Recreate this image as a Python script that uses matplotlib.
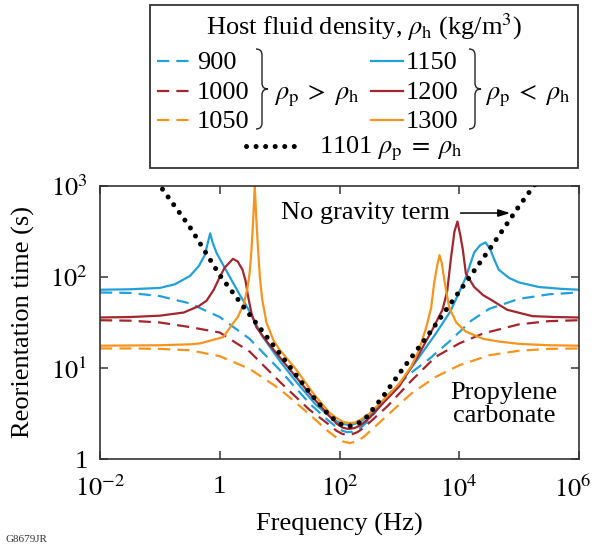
import numpy as np
import matplotlib.pyplot as plt
import matplotlib.transforms as mtransforms
from matplotlib.path import Path
from matplotlib.patches import PathPatch, Rectangle
from matplotlib.lines import Line2D

plt.rcParams['font.family'] = ['Liberation Serif', 'DejaVu Serif']
plt.rcParams['mathtext.fontset'] = 'stix'

# values as log10(frequency/Hz) and log10(time/s)
logf_900 = [-2, -1.5, -1, -0.5, 0, 0.5, 1.0, 1.5, 1.8, 1.95, 2.05, 2.13, 2.22, 2.35, 2.5, 2.8, 3.2, 3.5, 3.85, 4.2, 4.5, 5.0, 5.5, 6]
logt_900 = [1.83, 1.825, 1.79, 1.71, 1.56, 1.32, 0.98, 0.61, 0.43, 0.35, 0.31, 0.295, 0.30, 0.34, 0.43, 0.70, 0.95, 1.10, 1.30, 1.52, 1.65, 1.76, 1.81, 1.83]

logf_1000 = [-2, -1.5, -1, -0.5, 0, 0.5, 1.0, 1.5, 1.8, 1.95, 2.05, 2.12, 2.2, 2.3, 2.4, 2.5, 2.8, 3.2, 3.6, 4.0, 4.4, 5.0, 5.5, 6]
logt_1000 = [1.525, 1.52, 1.50, 1.45, 1.39, 1.18, 0.85, 0.54, 0.39, 0.31, 0.275, 0.265, 0.27, 0.295, 0.34, 0.40, 0.58, 0.86, 1.12, 1.27, 1.38, 1.48, 1.515, 1.525]

logf_1050 = [-2, -1.5, -1, -0.5, 0, 0.5, 1.0, 1.5, 1.8, 1.95, 2.07, 2.17, 2.27, 2.4, 2.55, 2.8, 3.2, 3.6, 4.0, 4.5, 5.0, 5.5, 6]
logt_1050 = [1.215, 1.215, 1.21, 1.195, 1.13, 0.99, 0.77, 0.49, 0.31, 0.235, 0.19, 0.175, 0.19, 0.24, 0.33, 0.48, 0.72, 0.90, 1.03, 1.14, 1.19, 1.21, 1.215]

logf_1101 = [-1.05, -0.5, 0, 0.4, 1.0, 1.5, 1.8, 1.92, 2.0, 2.08, 2.15, 2.23, 2.33, 2.45, 2.72, 3.0, 3.5, 4.0, 4.5, 5.0, 5.3]
logt_1101 = [3.05, 2.55, 2.02, 1.67, 1.16, 0.73, 0.50, 0.43, 0.39, 0.365, 0.36, 0.37, 0.40, 0.46, 0.68, 0.94, 1.38, 1.84, 2.30, 2.78, 3.05]

logf_1150 = [-2, -1.5, -1, -0.75, -0.5, -0.35, -0.25, -0.19, -0.16, -0.12, -0.05, 0.1, 0.33, 0.5, 0.7, 1.0, 1.3, 1.6, 1.85, 1.95, 2.05,
             2.15, 2.25, 2.35, 2.5, 2.75, 3.0, 3.33, 3.6, 3.85, 4.1, 4.25, 4.35, 4.44, 4.52, 4.58, 4.66, 4.83, 5.0, 5.33, 5.7, 6]
logt_1150 = [1.86, 1.865, 1.88, 1.92, 2.01, 2.12, 2.24, 2.40, 2.48, 2.38, 2.26, 2.08, 1.81, 1.62, 1.36, 1.08, 0.83, 0.60, 0.46, 0.415, 0.385,
             0.375, 0.385, 0.41, 0.48, 0.65, 0.82, 1.12, 1.37, 1.62, 1.98, 2.27, 2.35, 2.38, 2.30, 2.20, 2.08, 1.99, 1.94, 1.89, 1.87, 1.86]

logf_1200 = [-2, -1.5, -1, -0.6, -0.35, -0.22, -0.1, 0.0, 0.08, 0.22, 0.3, 0.38, 0.43, 0.47, 0.53, 0.61, 0.8, 1.0, 1.55, 1.85, 1.95, 2.05,
             2.15, 2.25, 2.35, 2.5, 2.75, 3.0, 3.3, 3.55, 3.72, 3.8, 3.86, 3.92, 3.97, 4.02, 4.06, 4.11, 4.25, 4.4, 4.53, 4.8, 5.22, 5.6, 6]
logt_1200 = [1.555, 1.56, 1.575, 1.61, 1.68, 1.74, 1.86, 2.0, 2.1, 2.2, 2.17, 2.08, 1.96, 1.80, 1.60, 1.45, 1.28, 1.12, 0.68, 0.46, 0.39, 0.345,
             0.33, 0.34, 0.37, 0.45, 0.63, 0.80, 1.12, 1.42, 1.64, 1.85, 2.2, 2.5, 2.61, 2.45, 2.30, 2.04, 1.89, 1.80, 1.75, 1.64, 1.57, 1.56, 1.555]

logf_1300 = [-2, -1, -0.5, -0.33, 0.06, 0.22, 0.30, 0.40, 0.46, 0.50, 0.53, 0.56, 0.585, 0.61, 0.64, 0.67, 0.71, 0.78, 0.9, 1.0, 1.28, 1.55,
             1.83, 1.95, 2.05, 2.15, 2.25, 2.35, 2.5, 2.75, 3.0, 3.2, 3.33, 3.45, 3.53, 3.58, 3.63, 3.67, 3.71, 3.75, 3.83, 3.95, 4.11, 4.4,
             4.67, 5.0, 5.5, 6]
logt_1300 = [1.245, 1.25, 1.26, 1.27, 1.34, 1.49, 1.56, 1.70, 1.87, 2.05, 2.30, 2.65, 3.0, 2.65, 2.30, 2.0, 1.75, 1.50, 1.30, 1.2, 0.98, 0.73,
             0.51, 0.45, 0.41, 0.395, 0.40, 0.43, 0.50, 0.66, 0.83, 1.02, 1.20, 1.45, 1.66, 1.93, 2.12, 2.24, 2.15, 1.97, 1.67, 1.50, 1.40, 1.32,
             1.29, 1.265, 1.25, 1.245]

blue = '#22A0DA'
red = '#A3262E'
orange = '#F7941D'
dash = (0, (5.5, 3.2))
dots = (0, (0.01, 1.9))

series = [
    (logf_900, logt_900, blue, dash),
    (logf_1000, logt_1000, red, dash),
    (logf_1050, logt_1050, orange, dash),
    (logf_1150, logt_1150, blue, '-'),
    (logf_1200, logt_1200, red, '-'),
    (logf_1300, logt_1300, orange, '-'),
]

W, H = 593, 546
fig = plt.figure(figsize=(W / 100, H / 100), dpi=100)
ax = fig.add_axes([100 / W, 1 - 459 / H, 479 / W, 273 / H])

for lf, lt, c, ls in series:
    ax.plot(10.0 ** np.array(lf), 10.0 ** np.array(lt), color=c, ls=ls, lw=1.6)
ax.plot(10.0 ** np.array(logf_1101), 10.0 ** np.array(logt_1101), color='black', ls=dots,
        lw=3.6, dash_capstyle='round', zorder=5)

ax.set_xscale('log')
ax.set_yscale('log')
ax.set_xlim(1e-2, 1e6)
ax.set_ylim(1, 1e3)
ax.set_xticks([1e-2, 1, 1e2, 1e4, 1e6])
ax.set_xticklabels([r'$10^{-2}$', '1', r'$10^{2}$', r'$10^{4}$', r'$10^{6}$'])
ax.set_yticks([1, 10, 100, 1000])
ax.set_yticklabels(['1', r'$10^{1}$', r'$10^{2}$', r'$10^{3}$'])
ax.minorticks_off()
ax.tick_params(direction='in', top=True, right=True, length=6, width=1.1,
               color='#333333', labelsize=19, pad=9)
ax.tick_params(axis='x', pad=12)
# pull the last x label in so it stays inside the picture
last = ax.get_xticklabels()[-1]
last.set_transform(last.get_transform() + mtransforms.ScaledTranslation(-6 / 100, 0, fig.dpi_scale_trans))
for s in ax.spines.values():
    s.set_color('#333333')
    s.set_linewidth(1.2)
ax.set_xlabel('Frequency (Hz)', fontsize=19, labelpad=8)
ax.set_ylabel('Reorientation time (s)', fontsize=19, labelpad=11)

ax.text(0.554, 0.901, 'No gravity term', transform=ax.transAxes, fontsize=19,
        ha='center', va='center')
ax.annotate('', xy=(0.862, 0.901), xytext=(0.747, 0.901), xycoords='axes fraction',
            arrowprops=dict(arrowstyle='-|>,head_length=0.7,head_width=0.22', color='black', lw=1.1))
ax.text(0.843, 0.2, 'Propylene\ncarbonate', transform=ax.transAxes, fontsize=19,
        ha='center', va='center', linespacing=1.05)

# legend box drawn in figure pixels (y downwards)
pix = mtransforms.Affine2D().scale(1 / W, -1 / H).translate(0, 1) + fig.transFigure
fig.add_artist(Rectangle((150, 5), 428, 163, transform=pix, fill=False, ec='#333333', lw=1.3))

fs = 19
fig.text(364, 35, r'Host fluid density, $\rho_\mathrm{h}$ (kg/m$^3$)', transform=pix, fontsize=fs,
         ha='center', va='baseline')

rows = [69, 99, 128]
left_labels = ['900', '1000', '1050']
right_labels = ['1150', '1200', '1300']
colors = [blue, red, orange]
for yb, lab, c in zip(rows, left_labels, colors):
    fig.add_artist(Line2D([157, 193], [yb - 8, yb - 8], transform=pix, color=c, ls=dash, lw=1.6))
    fig.text(197, yb, lab, transform=pix, fontsize=fs, va='baseline')
for yb, lab, c in zip(rows, right_labels, colors):
    fig.add_artist(Line2D([371, 403], [yb - 8, yb - 8], transform=pix, color=c, ls='-', lw=1.6))
    fig.text(406, yb, lab, transform=pix, fontsize=fs, va='baseline')


def brace(x, y0, y1, w):
    ym = (y0 + y1) / 2
    h = w / 2
    verts = [(x, y0), (x + h, y0), (x + h, y0 + h), (x + h, ym - h), (x + h, ym), (x + w, ym),
             (x + h, ym), (x + h, ym + h), (x + h, y1 - h), (x + h, y1), (x, y1)]
    codes = [Path.MOVETO, Path.CURVE3, Path.CURVE3, Path.LINETO, Path.CURVE3, Path.CURVE3,
             Path.CURVE3, Path.CURVE3, Path.LINETO, Path.CURVE3, Path.CURVE3]
    fig.add_artist(PathPatch(Path(verts, codes), transform=pix, fill=False, ec='#222222', lw=1.0))


brace(256, 49, 129, 12)
brace(469, 49, 129, 12)
fig.text(274, 99, r'$\rho_\mathrm{p}\;>\;\rho_\mathrm{h}$', transform=pix, fontsize=fs, va='baseline')
fig.text(485, 99, r'$\rho_\mathrm{p}\;<\;\rho_\mathrm{h}$', transform=pix, fontsize=fs, va='baseline')

fig.add_artist(Line2D([246, 303], [146, 146], transform=pix, color='black', ls=dots, lw=3.6,
                      dash_capstyle='round'))
fig.text(319, 153, r'1101 $\rho_\mathrm{p}\;=\;\rho_\mathrm{h}$', transform=pix, fontsize=fs, va='baseline')

fig.text(5, 542, 'G8679JR', transform=pix, fontsize=8, va='baseline', color='#333333')

fig.savefig('out.png', dpi=100)
